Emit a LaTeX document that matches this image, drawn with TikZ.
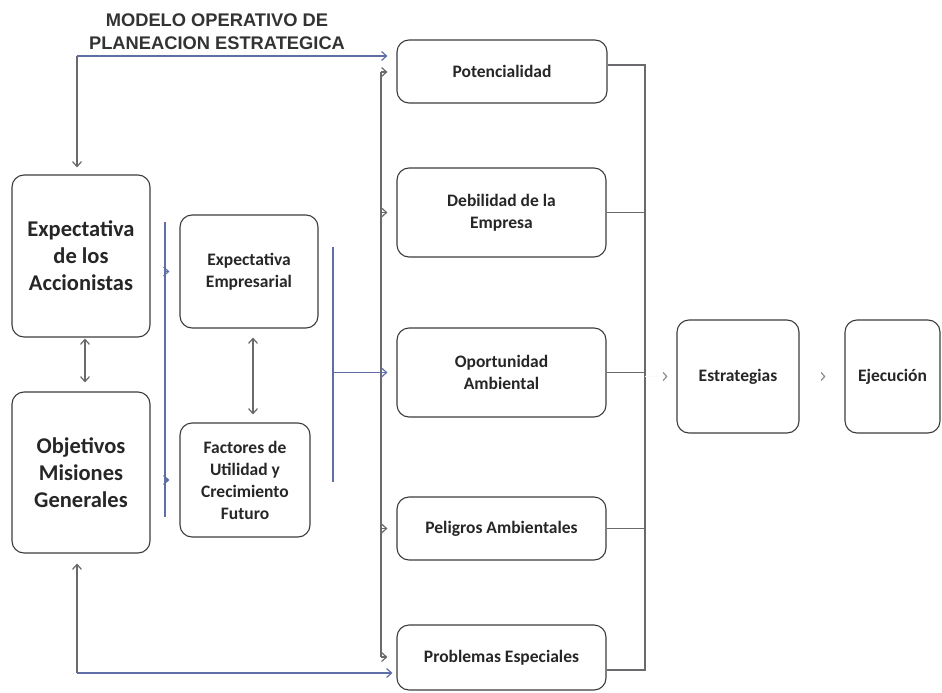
\documentclass[tikz,border=0pt]{standalone}
\usepackage{fontspec}
\setmainfont{Carlito}
\newfontfamily\titlefont{Liberation Sans}
\usetikzlibrary{arrows.meta}
\definecolor{boxc}{RGB}{60,60,60}
\definecolor{gline}{RGB}{105,105,110}
\definecolor{bline}{RGB}{95,110,165}
\definecolor{faint}{RGB}{250,250,250}
\definecolor{tipc}{RGB}{140,140,140}
\tikzset{
  box/.style={draw=boxc, line width=1.1pt, rounded corners=12pt, align=center, inner sep=2pt, text=black!85},
  bigtxt/.style={font=\fontsize{22.5}{27}\selectfont\bfseries},
  smalltxt/.style={font=\fontsize{17.5}{22}\selectfont\bfseries},
  tip/.style={-{Straight Barb[length=5pt,width=9pt]}},
  btip/.style={{Straight Barb[length=5pt,width=9pt]}-{Straight Barb[length=5pt,width=9pt]}},
  conn/.style={line width=1.2pt},
}
\begin{document}
\begin{tikzpicture}[x=1pt,y=-1pt]
\useasboundingbox (0,0) rectangle (942,693);
% title
\node[font=\titlefont\fontsize{18.3}{23}\selectfont\bfseries, text=black!80, align=center] (title) at (217,31.5) {MODELO OPERATIVO DE\\PLANEACION ESTRATEGICA};
% right column boxes
\node[box, smalltxt, minimum width=210pt, minimum height=63pt] (pot) at (502,71.5) {Potencialidad};
\node[box, smalltxt, minimum width=209pt, minimum height=89pt] (deb) at (501.5,212.5) {Debilidad de la\\Empresa};
\node[box, smalltxt, minimum width=209pt, minimum height=89pt] (opo) at (501.5,372.5) {Oportunidad\\Ambiental};
\node[box, smalltxt, minimum width=209pt, minimum height=63pt] (pel) at (501.5,528.5) {Peligros Ambientales};
\node[box, smalltxt, minimum width=209pt, minimum height=65pt] (pro) at (501.5,657.5) {Problemas Especiales};
% left boxes
\node[box, bigtxt, minimum width=138pt, minimum height=162pt] (acc) at (81,256) {Expectativa\\de los\\Accionistas};
\node[box, bigtxt, minimum width=138pt, minimum height=161pt] (obj) at (81,472.5) {Objetivos\\Misiones\\Generales};
\node[box, smalltxt, minimum width=138pt, minimum height=113pt] (emp) at (249,271.5) {Expectativa\\Empresarial};
\node[box, smalltxt, minimum width=130pt, minimum height=114pt] (fac) at (245,480) {Factores de\\Utilidad y\\Crecimiento\\Futuro};
% final boxes
\node[box, smalltxt, minimum width=122pt, minimum height=113pt] (est) at (738,376.5) {Estrategias};
\node[box, smalltxt, minimum width=95pt, minimum height=113pt] (eje) at (892.5,376.5) {Ejecución};

% coordinates
\coordinate (tl) at (77,56);
\coordinate (bl) at (77,673);
\coordinate (tt) at (381,72);
\coordinate (tb) at (381,657);
\coordinate (m1) at (165,222);
\coordinate (m2) at (165,517);
\coordinate (n1) at (333,247);
\coordinate (n2) at (333,482);
\coordinate (r1) at (645,65);
\coordinate (r5) at (645,670);
\coordinate (ef) at (253,0);
\coordinate (ao) at (85,0);

% top loop
\draw[conn, gline, tip, shorten >=7pt] (tl) -- (acc.north -| tl);
\draw[conn, bline, tip, shorten >=9pt] (tl) -- (pot.west |- tl);
% bottom loop
\draw[conn, gline, tip, shorten >=10pt] (bl) -- (obj.south -| bl);
\draw[conn, bline, tip, shorten >=4pt] (bl) -- (pro.west |- bl);
% trunk
\draw[conn, gline] (tt) -- (tb);
\draw[conn, gline, tip, shorten >=9pt] (tt) -- (pot.west |- tt);
\draw[conn, gline, tip, shorten >=9pt] (tt |- deb.west) -- (deb.west);
\draw[conn, bline, tip, shorten >=9pt] (n1 |- opo.west) -- (opo.west);
\draw[conn, gline, tip, shorten >=9pt] (tt |- pel.west) -- (pel.west);
\draw[conn, gline, tip, shorten >=9pt] (tb) -- (pro.west |- tb);
% middle brackets
\draw[conn, bline] (m1) -- (m2);
\draw[conn, bline, tip, shorten >=10pt] (m1 |- emp.west) -- (emp.west);
\draw[conn, bline, tip, shorten >=10pt] (m1 |- fac.west) -- (fac.west);
\draw[conn, bline] (n1) -- (n2);
% double arrows
\draw[conn, gline, btip, shorten <=1pt, shorten >=9pt] (acc.south -| ao) -- (obj.north -| ao);
\draw[conn, gline, btip, shorten <=9pt, shorten >=8pt] (emp.south -| ef) -- (fac.north -| ef);
% right bracket
\draw[conn, gline] (pot.east |- r1) -- (r1) -- (r5) -- (pro.east |- r5);
\draw[conn, gline] (deb.east) -- (r1 |- deb.east);
\draw[conn, gline] (opo.east) -- (r1 |- opo.east);
\draw[conn, gline] (pel.east) -- (r1 |- pel.east);
% to estrategias / ejecucion
\draw[conn, faint, -{Straight Barb[length=3.5pt,width=8pt,color=tipc]}, shorten >=9pt] (r1 |- est.west) -- (est.west);
\draw[conn, faint, -{Straight Barb[length=3.5pt,width=8pt,color=tipc]}, shorten <=20pt, shorten >=19pt] (est.east) -- (eje.west);
\end{tikzpicture}
\end{document}
